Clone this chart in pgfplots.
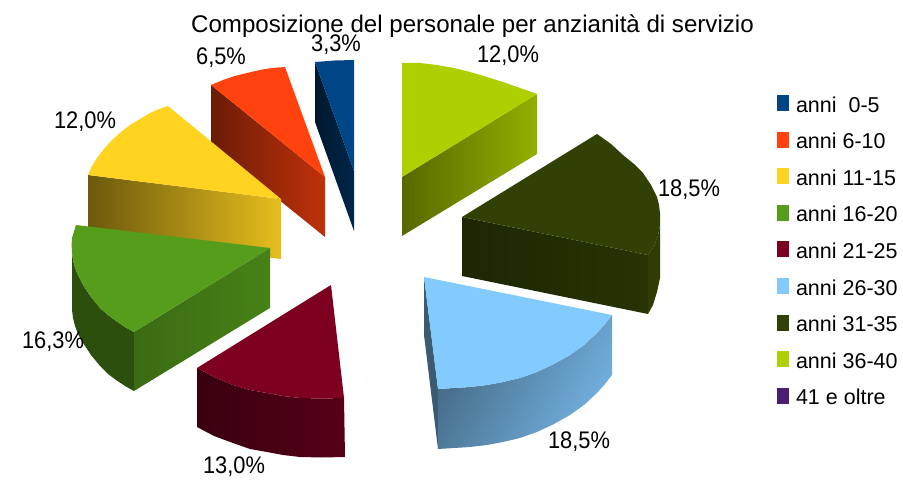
\documentclass[border=0pt]{standalone}
\usepackage{fontspec}
\setmainfont{Liberation Sans}
\usepackage{pgfplots}
\pgfplotsset{compat=1.18}
\definecolor{cBlue}{HTML}{004586}
\definecolor{cOrange}{HTML}{FF420E}
\definecolor{cYellow}{HTML}{FFD320}
\definecolor{cGreen}{HTML}{579D1C}
\definecolor{cMaroon}{HTML}{7E0021}
\definecolor{cSky}{HTML}{83CAFF}
\definecolor{cOlive}{HTML}{314004}
\definecolor{cLime}{HTML}{AECF00}
\definecolor{cPurple}{HTML}{4B1F6F}
\newcommand{\lab}[1]{\scalebox{0.91}[1]{\fontsize{24}{24}\selectfont #1}}

\begin{document}
\begin{tikzpicture}
\begin{axis}[
    scale only axis,
    width=903pt,
    height=479pt,
    xmin=0, xmax=903,
    ymin=0, ymax=479,
    y dir=reverse,
    hide axis,
    clip=false,
    legend style={
        at={(axis cs:777,95)}, anchor=north west,
        draw=none, fill=none, inner sep=0pt, outer sep=0pt,
        font=\fontsize{21.5}{21.5}\selectfont,
        row sep=15.6pt,
        /tikz/column 1/.style={column sep=7pt},
        nodes={inner sep=0pt, outer sep=0pt, text height=16pt, text depth=4pt},
    },
    legend cell align=left,
    legend image code/.code={\fill[#1] (0pt,-5pt) rectangle (12pt,11pt);},
]
% blue 0-5
\addplot[draw=none, left color=cBlue!35!black, right color=cBlue!55!black, forget plot] coordinates {
    (315,62) (354,171) (354,231) (315,122)} -- cycle;
\addplot[draw=none, fill=cBlue] coordinates {
    (315,62) (335,60.5) (354,60) (354,171)} -- cycle;
\addlegendentry{anni\ \ 0-5}
% orange 6-10
\addplot[draw=none, left color=cOrange!42!black, right color=cOrange!75!black, forget plot] coordinates {
    (211,85) (325,177) (325,237) (211,145)} -- cycle;
\addplot[draw=none, fill=cOrange] coordinates {
    (211,85) (223,80) (235,76) (247,73) (260,70) (272,68) (285,67) (325,177)} -- cycle;
\addlegendentry{anni 6-10}
% yellow 11-15
\addplot[draw=none, left color=cYellow!42!black, right color=cYellow!90!black, forget plot] coordinates {
    (88,175) (281,199) (281,259) (88,235)} -- cycle;
\addplot[draw=none, fill=cYellow] coordinates {
    (88,175) (92,166) (97,158) (104,149) (112,140) (121,132) (130,125)
    (140,119) (150,113) (159,109) (168,106) (281,199)} -- cycle;
\addlegendentry{anni 11-15}
% green 16-20
\addplot[draw=none, fill=cGreen!50!black, forget plot] coordinates {
    (72,252) (73,260) (75,268) (78,275) (83,285) (91,297) (100,308) (108,315) (116,321) (125,327) (134,332)
    (134,391) (125,386) (116,380) (108,374) (100,366) (91,355) (83,343) (78,334) (75,326) (73,318) (72,310)} -- cycle;
\addplot[draw=none, left color=cGreen!68!black, right color=cGreen!82!black, forget plot] coordinates {
    (134,332) (270,248) (270,308) (134,391)} -- cycle;
\addplot[draw=none, fill=cGreen] coordinates {
    (76,225) (270,248) (134,332) (125,327) (116,321) (108,315) (100,308) (91,297) (83,285)
    (78,275) (75,268) (73,260) (72,252) (71.5,245) (72,238)} -- cycle;
\addlegendentry{anni 16-20}
% maroon 21-25
\addplot[draw=none, left color=cMaroon!45!black, right color=cMaroon!68!black, forget plot] coordinates {
    (197,368) (214,377) (233,385) (250,390) (267,393) (283,396) (300,398) (322,398.5) (344,398)
    (345,457) (322,457.5) (300,457) (283,455) (267,452) (250,449) (233,443) (214,436) (197,427)} -- cycle;
\addplot[draw=none, fill=cMaroon] coordinates {
    (331,285) (197,368) (214,377) (233,385) (250,390) (267,393) (283,396) (300,398) (322,398.5) (344,398)} -- cycle;
\addlegendentry{anni 21-25}
% sky 26-30
\addplot[draw=none, fill=cSky!45!black, forget plot] coordinates {
    (424,277) (438,389) (438,449) (424,335)} -- cycle;
\addplot[draw=none, left color=cSky!52!black, right color=cSky!88!black, shading angle=60, forget plot] coordinates {
    (438,389) (454,388) (470,387) (487,385) (503,382) (520,378) (537,372) (554,364) (570,355) (584,345) (597,333) (605,324) (612,315)
    (612,375) (605,384) (597,393) (584,405) (570,415) (554,424) (537,432) (520,438) (503,442) (487,445) (470,447) (454,448) (438,449)} -- cycle;
\addplot[draw=none, fill=cSky] coordinates {
    (424,277) (612,315) (605,324) (597,333) (584,345) (570,355) (554,364) (537,372) (520,378) (503,382) (487,385) (470,387) (454,388) (438,389)} -- cycle;
\addlegendentry{anni 26-30}
% olive 31-35
\addplot[draw=none, fill=cOlive!95!black, forget plot] coordinates {
    (648,255) (654,246) (658,236) (660,225) (660,278) (657,292) (653,305) (648,314)} -- cycle;
\addplot[draw=none, left color=cOlive!60!black, right color=cOlive!80!black, forget plot] coordinates {
    (462,217) (648,255) (648,314) (462,276)} -- cycle;
\addplot[draw=none, fill=cOlive] coordinates {
    (597,134) (611,144) (623,155) (634,164) (643,173) (651,185) (657,197) (659,205) (660,213) (660,225)
    (658,236) (654,246) (648,255) (462,217)} -- cycle;
\addlegendentry{anni 31-35}
% lime 36-40
\addplot[draw=none, left color=cLime!50!black, right color=cLime!85!black, forget plot] coordinates {
    (402,177) (537,94) (537,154) (402,236)} -- cycle;
\addplot[draw=none, fill=cLime] coordinates {
    (402,63) (420,63) (437,65) (454,68) (470,72) (487,77) (503,82) (520,88) (537,94) (402,177)} -- cycle;
\addlegendentry{anni 36-40}
% nothing to plot for 41 e oltre, legend only
\addlegendimage{draw=none, fill=cPurple}
\addlegendentry{41 e oltre}

\node[font=\fontsize{24.1}{24.1}\selectfont] at (axis cs:472.5,26) {Composizione del personale per anzianità di servizio};
\node at (axis cs:336,45) {\lab{3,3\%}};
\node at (axis cs:221,58) {\lab{6,5\%}};
\node at (axis cs:85,122) {\lab{12,0\%}};
\node at (axis cs:508,56) {\lab{12,0\%}};
\node at (axis cs:689,190) {\lab{18,5\%}};
\node at (axis cs:579,442) {\lab{18,5\%}};
\node at (axis cs:234,467) {\lab{13,0\%}};
\node at (axis cs:53,342) {\lab{16,3\%}};
\end{axis}
\useasboundingbox (0pt,0pt) rectangle (903pt,479pt);
\end{tikzpicture}
\end{document}
